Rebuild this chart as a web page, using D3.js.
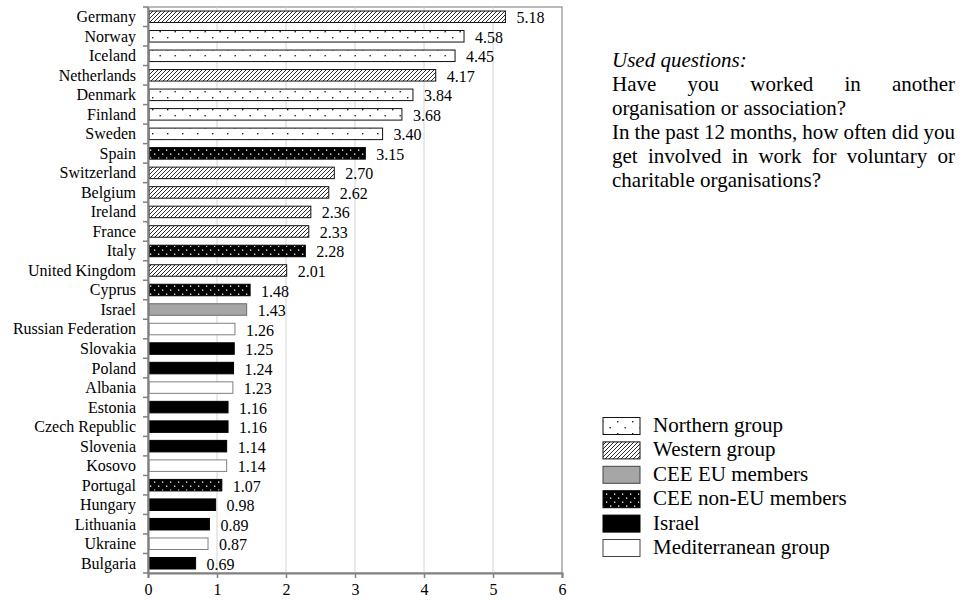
<!DOCTYPE html>
<html>
<head>
<meta charset="utf-8">
<script src="https://cdn.jsdelivr.net/npm/d3@7"></script>
<style>
  html, body { margin: 0; padding: 0; background: #fff; }
  svg { display: block; }
  svg text { font-family: "Liberation Serif", Tinos, "Times New Roman", Times, "DejaVu Serif", serif; fill: #000; }
</style>
</head>
<body>
<svg id="chart" width="960" height="602"></svg>
<script>
// ---------- data ----------
const countries = ["Germany","Norway","Iceland","Netherlands","Denmark","Finland","Sweden","Spain",
  "Switzerland","Belgium","Ireland","France","Italy","United Kingdom","Cyprus","Israel",
  "Russian Federation","Slovakia","Poland","Albania","Estonia","Czech Republic","Slovenia",
  "Kosovo","Portugal","Hungary","Lithuania","Ukraine","Bulgaria"];
const values = [5.18,4.58,4.45,4.17,3.84,3.68,3.40,3.15,2.70,2.62,2.36,2.33,2.28,2.01,1.48,1.43,
  1.26,1.25,1.24,1.23,1.16,1.16,1.14,1.14,1.07,0.98,0.89,0.87,0.69];
const fillKeys = ["hatch","dots","dots","hatch","dots","dots","dots","blackdots",
  "hatch","hatch","hatch","hatch","blackdots","hatch","blackdots","grey",
  "white","black","black","white","black","black","black",
  "white","blackdots","black","black","white","black"];
const xTicks = [0,1,2,3,4,5,6];
const legendLabels = ["Northern group","Western group","CEE EU members","CEE non-EU members","Israel","Mediterranean group"];
const legendKeys = ["dots","hatch","grey","blackdots","black","white"];
const noteTitle = "Used questions:";
const noteParagraphs = [
  ["Have you worked in another", "organisation or association?"],
  ["In the past 12 months, how often did you", "get involved in work for voluntary or", "charitable organisations?"]
];

// ---------- layout ----------
const svg = d3.select("#chart");
const M = { left: 148, right: 562, top: 7, bottom: 573 };
const x = d3.scaleLinear().domain([0, 6]).range([M.left, M.right]);
const y = d3.scaleBand().domain(countries).range([M.top, M.bottom]).paddingInner(0.41).paddingOuter(0.205);

// ---------- patterns ----------
const defs = svg.append("defs");
const hatch = defs.append("pattern").attr("id","p-hatch").attr("patternUnits","userSpaceOnUse")
  .attr("width",4).attr("height",4);
hatch.append("rect").attr("width",4).attr("height",4).attr("fill","#fff");
hatch.append("path").attr("d","M-1,1 l2,-2 M0,4 l4,-4 M3,5 l2,-2").attr("stroke","#2a2a2a").attr("stroke-width",1);

const dots = defs.append("pattern").attr("id","p-dots").attr("patternUnits","userSpaceOnUse")
  .attr("width",15).attr("height",12);
dots.append("rect").attr("width",15).attr("height",12).attr("fill","#fff");
dots.append("rect").attr("x",2).attr("y",1).attr("width",1.4).attr("height",1.4).attr("fill","#222");
dots.append("rect").attr("x",9.5).attr("y",7).attr("width",1.4).attr("height",1.4).attr("fill","#222");

const bdots = defs.append("pattern").attr("id","p-bdots").attr("patternUnits","userSpaceOnUse")
  .attr("width",8).attr("height",8);
bdots.append("rect").attr("width",8).attr("height",8).attr("fill","#000");
bdots.append("rect").attr("x",2).attr("y",1.5).attr("width",1.3).attr("height",1.3).attr("fill","#fff");
bdots.append("rect").attr("x",6).attr("y",5.5).attr("width",1.3).attr("height",1.3).attr("fill","#fff");

const styles = {
  hatch:     { fill: "url(#p-hatch)", stroke: "#111" },
  dots:      { fill: "url(#p-dots)",  stroke: "#111" },
  blackdots: { fill: "url(#p-bdots)", stroke: "#000" },
  grey:      { fill: "#a6a6a6",       stroke: "#6a6a6a" },
  black:     { fill: "#000",          stroke: "#000" },
  white:     { fill: "#fff",          stroke: "#7f7f7f" }
};

// ---------- plot frame & grid ----------
svg.append("rect").attr("x", M.left).attr("y", M.top)
  .attr("width", M.right - M.left).attr("height", M.bottom - M.top)
  .attr("fill","none").attr("stroke","#8c8c8c").attr("stroke-width",1.2);

svg.append("g").selectAll("line").data(xTicks.slice(1, -1)).join("line")
  .attr("x1", d => x(d)).attr("x2", d => x(d))
  .attr("y1", M.top).attr("y2", M.bottom)
  .attr("stroke","#d4d4d4").attr("stroke-width",1);

// ---------- bars ----------
const rows = countries.map((c, i) => ({ c, v: values[i], k: fillKeys[i] }));
svg.append("g").selectAll("rect").data(rows).join("rect")
  .attr("x", x(0) + 1)
  .attr("y", d => y(d.c))
  .attr("width", d => x(d.v) - x(0) - 1)
  .attr("height", y.bandwidth())
  .attr("fill", d => styles[d.k].fill)
  .attr("stroke", d => styles[d.k].stroke)
  .attr("stroke-width", 1);

// value labels
svg.append("g").selectAll("text").data(rows).join("text")
  .attr("x", d => x(d.v) + 11)
  .attr("y", d => y(d.c) + y.bandwidth() / 2 + 1)
  .attr("dominant-baseline","central")
  .attr("font-size", 16)
  .text(d => d3.format(".2f")(d.v));

// ---------- axes ----------
const yAxis = svg.append("g").attr("transform", `translate(${M.left},0)`)
  .call(d3.axisLeft(y).tickSize(0).tickPadding(12));
yAxis.attr("font-family", null);
yAxis.select(".domain").attr("stroke","#808080").attr("stroke-width",2);
yAxis.selectAll("text").attr("font-size",16).attr("dy","0.34em");

// boundary ticks on the category axis
const step = y.step();
const bounds = countries.map(c => y(c) - step * y.paddingInner() / 2).concat([M.bottom]);
svg.append("g").selectAll("line").data(bounds).join("line")
  .attr("x1", M.left - 5).attr("x2", M.left)
  .attr("y1", d => d).attr("y2", d => d)
  .attr("stroke","#808080").attr("stroke-width",1.5);

const xAxis = svg.append("g").attr("transform", `translate(0,${M.bottom})`)
  .call(d3.axisBottom(x).tickValues(xTicks).tickSize(5).tickPadding(6).tickFormat(d3.format("d")));
xAxis.attr("font-family", null);
xAxis.select(".domain").attr("stroke","#808080").attr("stroke-width",2);
xAxis.selectAll(".tick line").attr("stroke","#808080").attr("stroke-width",1.5);
xAxis.selectAll("text").attr("font-size",16);

// ---------- note ----------
const noteX = 612, noteW = 343, noteY0 = 60, lineH = 24, noteFS = 21;
const note = svg.append("g");
note.append("text").attr("x", noteX).attr("y", noteY0).attr("dominant-baseline","central")
  .attr("font-size", noteFS).attr("font-style","italic").text(noteTitle);
let li = 1;
noteParagraphs.forEach(par => {
  par.forEach((line, j) => {
    const yy = noteY0 + li * lineH;
    const last = j === par.length - 1;
    if (last) {
      note.append("text").attr("x", noteX).attr("y", yy).attr("dominant-baseline","central")
        .attr("font-size", noteFS).text(line);
    } else {
      const words = line.split(" ");
      const ts = words.map(w => note.append("text").attr("y", yy).attr("dominant-baseline","central")
        .attr("font-size", noteFS).text(w));
      const widths = ts.map(t => t.node().getComputedTextLength());
      const gap = (noteW - d3.sum(widths)) / (words.length - 1);
      let cx = noteX;
      ts.forEach((t, k) => { t.attr("x", cx); cx += widths[k] + gap; });
    }
    li++;
  });
});

// ---------- legend ----------
const lg = svg.append("g");
const lgX = 603, lgY0 = 425, lgH = 24.4;
legendLabels.forEach((lab, i) => {
  const cy = lgY0 + i * lgH;
  const st = styles[legendKeys[i]];
  lg.append("rect").attr("x", lgX).attr("y", cy - 7.5).attr("width", 37).attr("height", 17)
    .attr("fill", st.fill).attr("stroke", legendKeys[i] === "white" || legendKeys[i] === "grey" ? "#444" : st.stroke)
    .attr("stroke-width", 1);
  lg.append("text").attr("x", 653).attr("y", cy).attr("dominant-baseline","central")
    .attr("font-size", 21).text(lab);
});
</script>
</body>
</html>
